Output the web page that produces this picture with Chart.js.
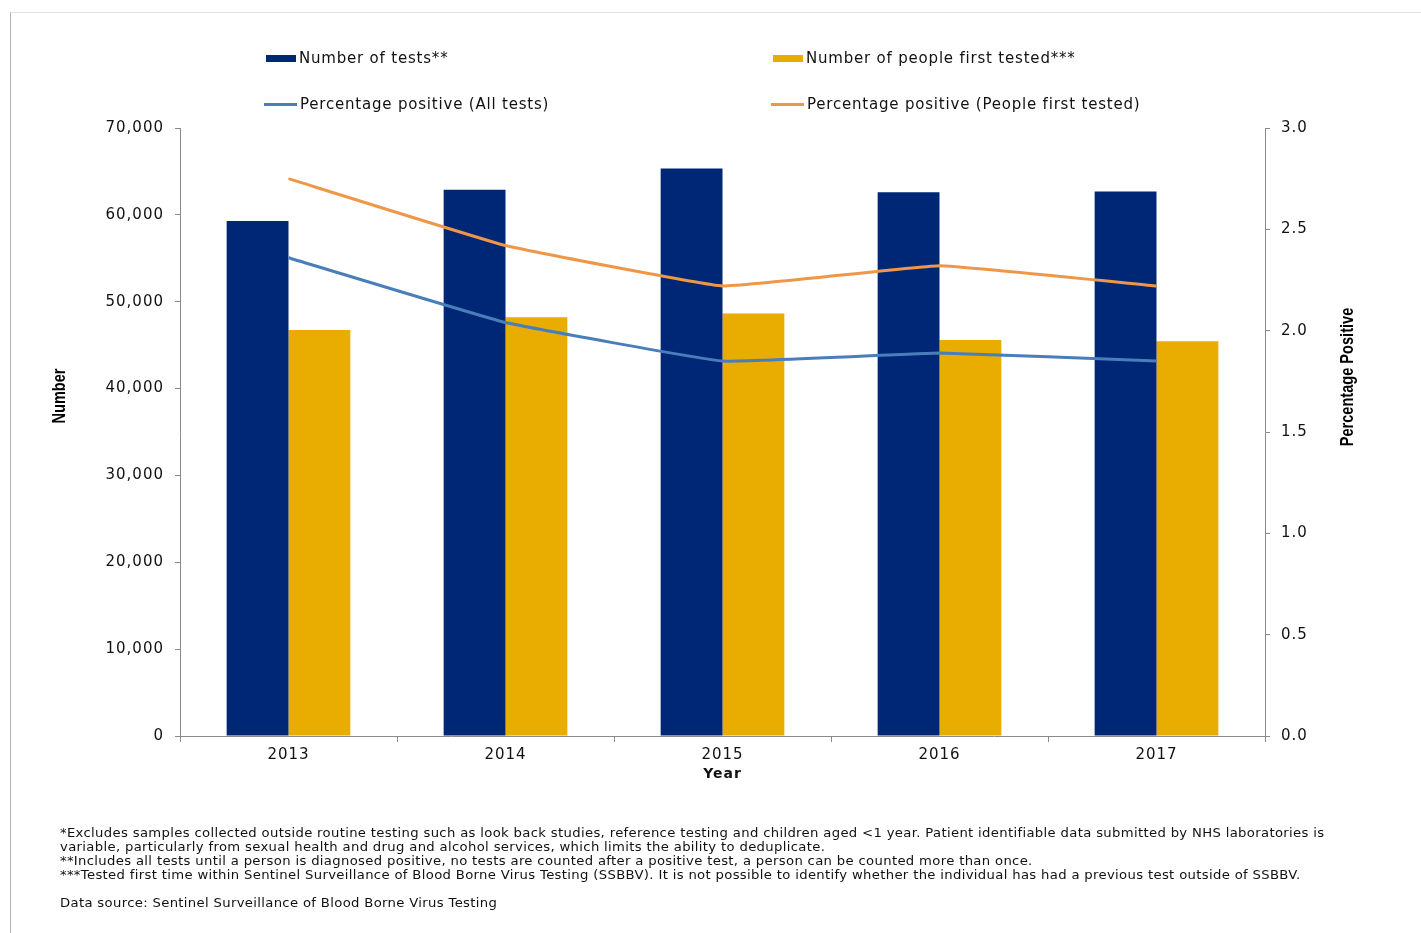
<!DOCTYPE html>
<html>
<head>
<meta charset="utf-8">
<script src="https://cdn.jsdelivr.net/npm/chart.js@4"></script>
<style>
  body { margin: 0; background: #fff; width: 1421px; height: 933px; overflow: hidden; position: relative;
         font-family: "DejaVu Sans", sans-serif; color: #111; }
  #frame { position: absolute; left: 10px; top: 12px; right: 0; bottom: 0;
           border-left: 1px solid #b4b4b4; border-top: 1px solid #e0e0e0; }
  #chart { position: absolute; left: 0; top: 0; }
  .leg { position: absolute; font-size: 15px; letter-spacing: 0.8px; line-height: 18px; white-space: nowrap; }
  .leg i { display: inline-block; vertical-align: middle; margin-right: 3px; }
  #notes { position: absolute; left: 60px; top: 826px; font-size: 12px; line-height: 14px;
           letter-spacing: 0.3px; white-space: nowrap; transform: scaleX(1.1); transform-origin: 0 0; }
</style>
</head>
<body>
<div id="frame"></div>
<canvas id="chart" width="1421" height="933"></canvas>
<div id="legend"></div>
<div id="notes">
  *Excludes samples collected outside routine testing such as look back studies, reference testing and children aged &lt;1 year. Patient identifiable data submitted by NHS laboratories is<br>
  variable, particularly from sexual health and drug and alcohol services, which limits the ability to deduplicate.<br>
  **Includes all tests until a person is diagnosed positive, no tests are counted after a positive test, a person can be counted more than once.<br>
  ***Tested first time within Sentinel Surveillance of Blood Borne Virus Testing (SSBBV). It is not possible to identify whether the individual has had a previous test outside of SSBBV.<br>
  <br>
  Data source: Sentinel Surveillance of Blood Borne Virus Testing
</div>
<script>
// data
const years = ['2013', '2014', '2015', '2016', '2017'];
const numTests = [59300, 62900, 65350, 62600, 62700];
const firstTested = [46750, 48200, 48650, 45600, 45450];
const pctAll = [2.36, 2.04, 1.85, 1.89, 1.85];
const pctFirst = [2.75, 2.42, 2.22, 2.32, 2.22];

const seriesNames = ['Number of tests**', 'Number of people first tested***',
                     'Percentage positive (All tests)', 'Percentage positive (People first tested)'];
const seriesColors = ['#002776', '#E9AC00', '#4A7EBB', '#EE9748'];

const leftMax = 70000, leftStep = 10000;
const rightMax = 3.0, rightStep = 0.5;
const xTitle = 'Year';
const yTitleLeft = 'Number';
const yTitleRight = 'Percentage Positive';

/*******************************************************
 * legend (two columns, two rows like the original)
 *******************************************************/
function buildLegend() {
  const spots = [[266, 49], [773, 49], [264, 95], [771, 95]];
  let html = '';
  seriesNames.forEach((name, i) => {
    const isBar = i < 2;
    const mark = isBar
      ? `<i style="width:30px;height:7px;background:${seriesColors[i]}"></i>`
      : `<i style="width:33px;height:3px;background:${seriesColors[i]}"></i>`;
    html += `<div class="leg" style="left:${spots[i][0]}px;top:${spots[i][1]}px">${mark}${name}</div>`;
  });
  document.getElementById('legend').innerHTML = html;
}
buildLegend();

// wider letter spacing on canvas text, plus the two rotated axis titles
const textTweaks = {
  id: 'textTweaks',
  beforeUpdate(chart) { chart.ctx.letterSpacing = '1px'; },
  beforeDraw(chart) { chart.ctx.letterSpacing = '1px'; },
  afterDraw(chart) {
    const ctx = chart.ctx;
    const titles = [[yTitleLeft, chart.scales.y.left + 60, 396], [yTitleRight, chart.scales.y1.left + 83, 377]];
    ctx.save();
    ctx.letterSpacing = '0px';
    ctx.font = 'bold 18px "Liberation Sans", Arial, sans-serif';
    ctx.fillStyle = '#000';
    ctx.textAlign = 'center';
    ctx.textBaseline = 'middle';
    titles.forEach(([txt, x, y]) => {
      ctx.save();
      ctx.translate(x, y);
      ctx.rotate(-Math.PI / 2);
      ctx.scale(0.81, 1); // narrow face like the original
      ctx.fillText(txt, 0, 0);
      ctx.restore();
    });
    ctx.restore();
  }
};

const tickFont = { family: 'DejaVu Sans', size: 15 };
const axisGrey = '#8a8a8a';

new Chart(document.getElementById('chart').getContext('2d'), {
  data: {
    labels: years,
    datasets: [
      { type: 'line', label: seriesNames[2], data: pctAll, yAxisID: 'y1', order: 0,
        borderColor: seriesColors[2], borderWidth: 3, pointRadius: 0, tension: 0.08 },
      { type: 'line', label: seriesNames[3], data: pctFirst, yAxisID: 'y1', order: 0,
        borderColor: seriesColors[3], borderWidth: 3, pointRadius: 0, tension: 0.08 },
      { type: 'bar', label: seriesNames[0], data: numTests, yAxisID: 'y', order: 1,
        backgroundColor: seriesColors[0], categoryPercentage: 0.57, barPercentage: 1 },
      { type: 'bar', label: seriesNames[1], data: firstTested, yAxisID: 'y', order: 1,
        backgroundColor: seriesColors[1], categoryPercentage: 0.57, barPercentage: 1 }
    ]
  },
  options: {
    responsive: false,
    animation: false,
    devicePixelRatio: 1,
    layout: { padding: { top: 128, bottom: 137, left: 0, right: 0 } },
    plugins: { legend: { display: false }, tooltip: { enabled: false } },
    scales: {
      x: {
        offset: true,
        grid: { offset: true, drawOnChartArea: false, tickLength: 6, color: axisGrey },
        border: { color: axisGrey },
        ticks: { font: tickFont, color: '#111', padding: 4 },
        title: { display: true, text: xTitle, color: '#111',
                 font: { family: 'DejaVu Sans', size: 14, weight: 'bold' }, padding: { top: 0, bottom: 13 } },
        afterFit: s => { s.height = 60; }
      },
      y: {
        position: 'left',
        min: 0, max: leftMax,
        grid: { drawOnChartArea: false, tickLength: 5, color: axisGrey },
        border: { color: axisGrey },
        ticks: { stepSize: leftStep, font: tickFont, color: '#111', padding: 11,
                 callback: v => v.toLocaleString('en-US') },
        afterFit: s => { s.width = 180; }
      },
      y1: {
        position: 'right',
        min: 0, max: rightMax,
        grid: { drawOnChartArea: false, tickLength: 5, color: axisGrey },
        border: { color: axisGrey },
        ticks: { stepSize: rightStep, font: tickFont, color: '#111', padding: 11,
                 callback: v => v.toFixed(1) },
        afterFit: s => { s.width = 156; }
      }
    }
  },
  plugins: [textTweaks]
});
</script>
</body>
</html>
